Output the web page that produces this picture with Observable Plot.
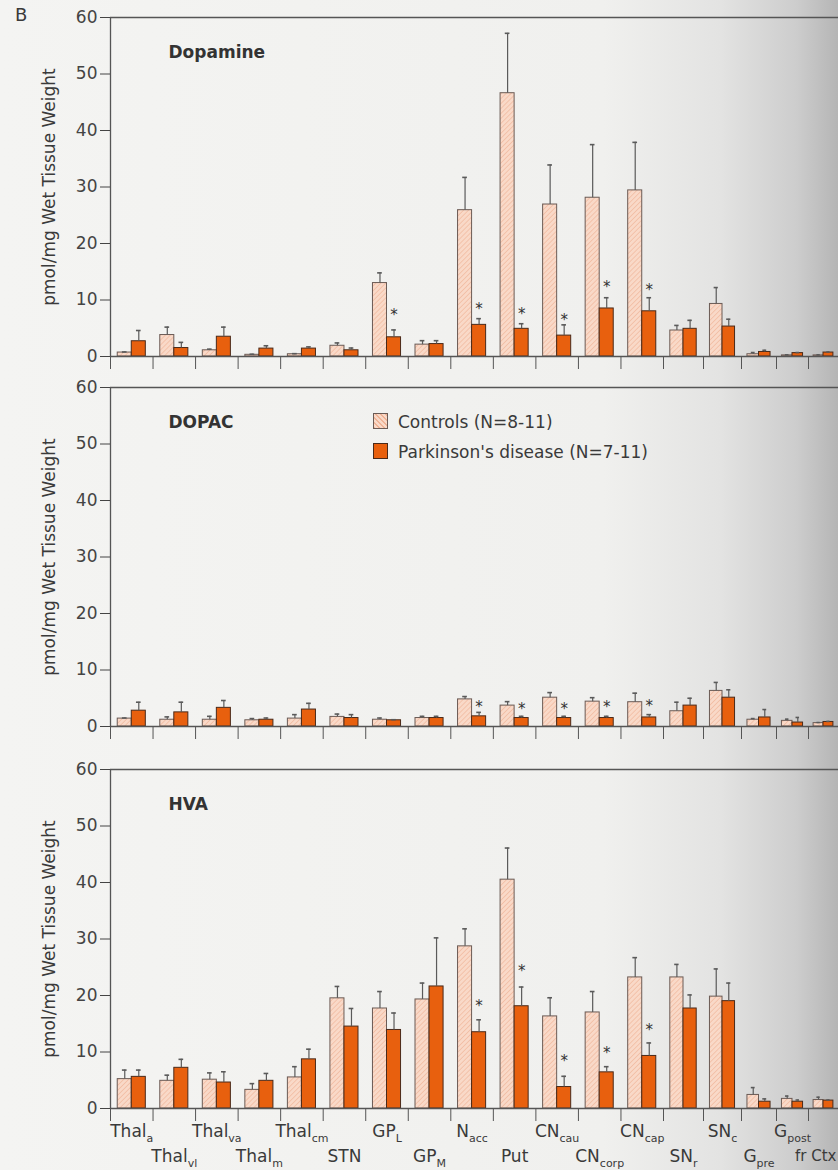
<!DOCTYPE html>
<html><head><meta charset="utf-8">
<script src="https://cdn.jsdelivr.net/npm/d3@7"></script>
<script src="https://cdn.jsdelivr.net/npm/@observablehq/plot@0.6"></script>
<style>
html,body{margin:0;padding:0;width:838px;height:1170px;overflow:hidden;}
body{position:relative;background:linear-gradient(to right,#f4f4f2 0%,#f0f0ee 72%,#e3e3e2 86%,#cdcdcd 95%,#b5b5b5 100%);font-family:"DejaVu Sans",sans-serif;color:#3a3a3a;}
.panel{position:absolute;left:0;}
#letter{position:absolute;left:15px;top:4px;font-size:18px;color:#3a3a3a;}
#legend{position:absolute;left:373px;top:407px;font-size:17px;color:#3a3a3a;line-height:30px;}
#legend .sw{display:inline-block;width:13px;height:14px;vertical-align:-1px;margin-right:10px;border:1px solid #6b5b55;}
</style></head><body>
<svg width="0" height="0" style="position:absolute"><defs>
<pattern id="hatch" patternUnits="userSpaceOnUse" width="3.5" height="3.5" patternTransform="rotate(45)">
<rect width="3.5" height="3.5" fill="#f9d9c8"/><line x1="0" y1="0" x2="0" y2="3.5" stroke="#efb396" stroke-width="1.2"/>
</pattern></defs></svg>
<div id="letter">B</div>
<div id="p1" class="panel" style="top:0px"></div>
<div id="p2" class="panel" style="top:370px"></div>
<div id="p3" class="panel" style="top:752px"></div>
<div id="legend">
<div><span class="sw" style="background:#f9d9c8;background-image:repeating-linear-gradient(45deg,#efb396 0 1.2px,#f9d9c8 1.2px 3.5px)"></span>Controls (N=8-11)</div>
<div><span class="sw" style="background:#e8600e;border-color:#4a2a1a"></span>Parkinson's disease (N=7-11)</div>
</div>
<script>
// ---- data ----
const regions = ["Thal_a","Thal_vl","Thal_va","Thal_m","Thal_cm","STN","GP_L","GP_M","N_acc","Put","CN_cau","CN_corp","CN_cap","SN_r","SN_c","G_pre","G_post","fr Ctx"];
const yTicks = [0,10,20,30,40,50,60];

const daCtl    = [0.7,3.8,1.1,0.3,0.4,1.9,13.0,2.1,25.9,46.6,26.9,28.1,29.4,4.6,9.3,0.4,0.2,0.2];
const daCtlSem = [0.1,1.4,0.2,0.1,0.1,0.5,1.8,0.7,5.8,10.6,7.0,9.4,8.5,0.9,2.9,0.3,0.1,0.1];
const daPd     = [2.7,1.5,3.5,1.4,1.4,1.1,3.4,2.2,5.6,4.9,3.7,8.5,8.0,4.9,5.3,0.8,0.6,0.7];
const daPdSem  = [1.9,1.0,1.7,0.5,0.3,0.4,1.3,0.6,1.1,0.9,1.9,1.9,2.4,1.5,1.3,0.3,0.1,0.1];
const daStarIdx = [6,8,9,10,11,12];
const daStarY   = [8.0,9.0,8.2,7.1,13.0,12.5];

const dopacCtl    = [1.4,1.2,1.2,1.1,1.4,1.7,1.2,1.5,4.8,3.7,5.1,4.4,4.3,2.7,6.3,1.2,1.0,0.6];
const dopacCtlSem = [0.1,0.5,0.6,0.3,0.7,0.5,0.3,0.3,0.5,0.7,0.9,0.7,1.6,1.6,1.5,0.2,0.3,0.1];
const dopacPd     = [2.8,2.5,3.3,1.2,3.0,1.5,1.1,1.5,1.8,1.5,1.5,1.5,1.6,3.7,5.1,1.6,0.7,0.8];
const dopacPdSem  = [1.5,1.8,1.3,0.3,1.1,0.6,0.1,0.3,0.7,0.3,0.3,0.3,0.5,1.3,1.4,1.4,0.9,0.1];
const dopacStarIdx = [8,9,10,11,12];
const dopacStarY   = [4.1,3.8,3.8,4.1,4.3];

const hvaCtl    = [5.2,4.9,5.1,3.3,5.5,19.5,17.7,19.3,28.7,40.5,16.3,17.0,23.2,23.2,19.8,2.4,1.7,1.5];
const hvaCtlSem = [1.6,1.0,1.2,1.1,1.9,2.1,3.0,2.9,3.1,5.6,3.3,3.7,3.5,2.3,4.9,1.3,0.5,0.5];
const hvaPd     = [5.6,7.2,4.6,4.9,8.7,14.5,13.9,21.6,13.5,18.1,3.8,6.4,9.3,17.7,19.0,1.2,1.2,1.4];
const hvaPdSem  = [1.2,1.5,1.9,1.3,1.8,3.2,3.0,8.6,2.2,3.4,1.9,1.0,2.3,2.4,3.2,0.5,0.3,0.1];
const hvaStarIdx = [8,9,10,11,12];
const hvaStarY   = [18.8,25.0,9.0,10.5,14.5];

// ---- style ----
const axisColor = "#555";
const ctlStroke = "#6b5b55";
const pdFill = "#e8600e";
const pdStroke = "#4a2a1a";
const errColor = "#5a5a5a";
const font = "DejaVu Sans";
const last = regions.length - 1;

function panel(el, opts) {
  const {title, ctl, ctlSem, pd, pdSem, starIdx, starY, labels, marginBottom} = opts;
  const rows = regions.map((r, i) => ({i, r, ctl: ctl[i], ctlHi: ctl[i] + ctlSem[i], pd: pd[i], pdHi: pd[i] + pdSem[i]}));
  const stars = starIdx.map((i, k) => ({i, y: starY[k]}));
  const marks = [
    Plot.ruleY([60], {stroke: axisColor, strokeWidth: 1.3}),
    Plot.ruleX([0], {y1: 0, y2: 60, stroke: axisColor, strokeWidth: 1.3}),
    Plot.axisY({ticks: yTicks, tickSize: 10, tickPadding: 3, fontSize: 17, color: "#444", label: null}),
    Plot.axisX({ticks: d3.range(0, 19), tickSize: 13, tickFormat: () => "", label: null, stroke: axisColor}),
    Plot.rectY(rows, {x1: d => d.i + 0.17, x2: d => d.i + 0.5, y: "ctl", fill: "url(#hatch)", stroke: ctlStroke, strokeWidth: 1}),
    Plot.rectY(rows, {x1: d => d.i + 0.5, x2: d => d.i + 0.83, y: "pd", fill: pdFill, stroke: pdStroke, strokeWidth: 1}),
    Plot.ruleX(rows, {x: d => d.i + 0.335, y1: "ctl", y2: "ctlHi", stroke: errColor, strokeWidth: 1.2}),
    Plot.ruleY(rows, {x1: d => d.i + 0.28, x2: d => d.i + 0.39, y: "ctlHi", stroke: errColor, strokeWidth: 1.6}),
    Plot.ruleX(rows, {x: d => d.i + 0.665, y1: "pd", y2: "pdHi", stroke: errColor, strokeWidth: 1.2}),
    Plot.ruleY(rows, {x1: d => d.i + 0.61, x2: d => d.i + 0.72, y: "pdHi", stroke: errColor, strokeWidth: 1.6}),
    Plot.ruleY([0], {stroke: axisColor, strokeWidth: 1.3}),
    Plot.text(stars, {x: d => d.i + 0.665, y: "y", text: () => "*", fontSize: 15, dy: 4, fill: "#333"}),
    Plot.text([title], {frameAnchor: "top-left", text: d => d, dx: 58, dy: 28, textAnchor: "start", fontWeight: "bold", fontSize: 17, fill: "#333"}),
    Plot.text(["pmol/mg Wet Tissue Weight"], {frameAnchor: "left", text: d => d, dx: -61, rotate: -90, textAnchor: "middle", lineAnchor: "middle", fontSize: 17, fill: "#3a3a3a"})
  ];
  if (labels) {
    marks.push(Plot.text(rows, {filter: d => d.i % 2 === 0, x: d => d.i + 0.5, y: () => 0, text: "r", dy: 23, fontSize: 17, fill: "#3a3a3a"}));
    marks.push(Plot.text(rows, {filter: d => d.i % 2 === 1 && d.i !== last, x: d => d.i + 0.5, y: () => 0, text: "r", dy: 48, fontSize: 17, fill: "#3a3a3a"}));
    marks.push(Plot.text(rows, {filter: d => d.i === last, x: d => d.i + 1, y: () => 0, text: "r", dy: 48, dx: -2, textAnchor: "end", fontSize: 15, fill: "#3a3a3a"}));
  }
  const chart = Plot.plot({
    width: 838,
    height: 17 + 339 + marginBottom,
    marginTop: 17,
    marginBottom,
    marginLeft: 110,
    marginRight: 0,
    style: {background: "transparent", fontFamily: font, overflow: "visible"},
    x: {type: "linear", domain: [0, 13, 14, 15, 16, 17, 18], range: [110, 663, 703, 741, 776, 808, 838]},
    y: {domain: [0, 60]},
    marks
  });
  // subscripts in region labels
  chart.querySelectorAll("text").forEach(t => {
    const s = t.textContent;
    if (t.childElementCount === 0 && s.includes("_")) {
      const [base, sub] = s.split("_");
      t.textContent = base;
      const ts = document.createElementNS("http://www.w3.org/2000/svg", "tspan");
      ts.setAttribute("font-size", "11");
      ts.setAttribute("dy", "5");
      ts.textContent = sub;
      t.appendChild(ts);
    }
  });
  document.getElementById(el).appendChild(chart);
}

panel("p1", {title: "Dopamine", ctl: daCtl, ctlSem: daCtlSem, pd: daPd, pdSem: daPdSem, starIdx: daStarIdx, starY: daStarY, labels: false, marginBottom: 16});
panel("p2", {title: "DOPAC", ctl: dopacCtl, ctlSem: dopacCtlSem, pd: dopacPd, pdSem: dopacPdSem, starIdx: dopacStarIdx, starY: dopacStarY, labels: false, marginBottom: 16});
panel("p3", {title: "HVA", ctl: hvaCtl, ctlSem: hvaCtlSem, pd: hvaPd, pdSem: hvaPdSem, starIdx: hvaStarIdx, starY: hvaStarY, labels: true, marginBottom: 62});
</script>
</body></html>
